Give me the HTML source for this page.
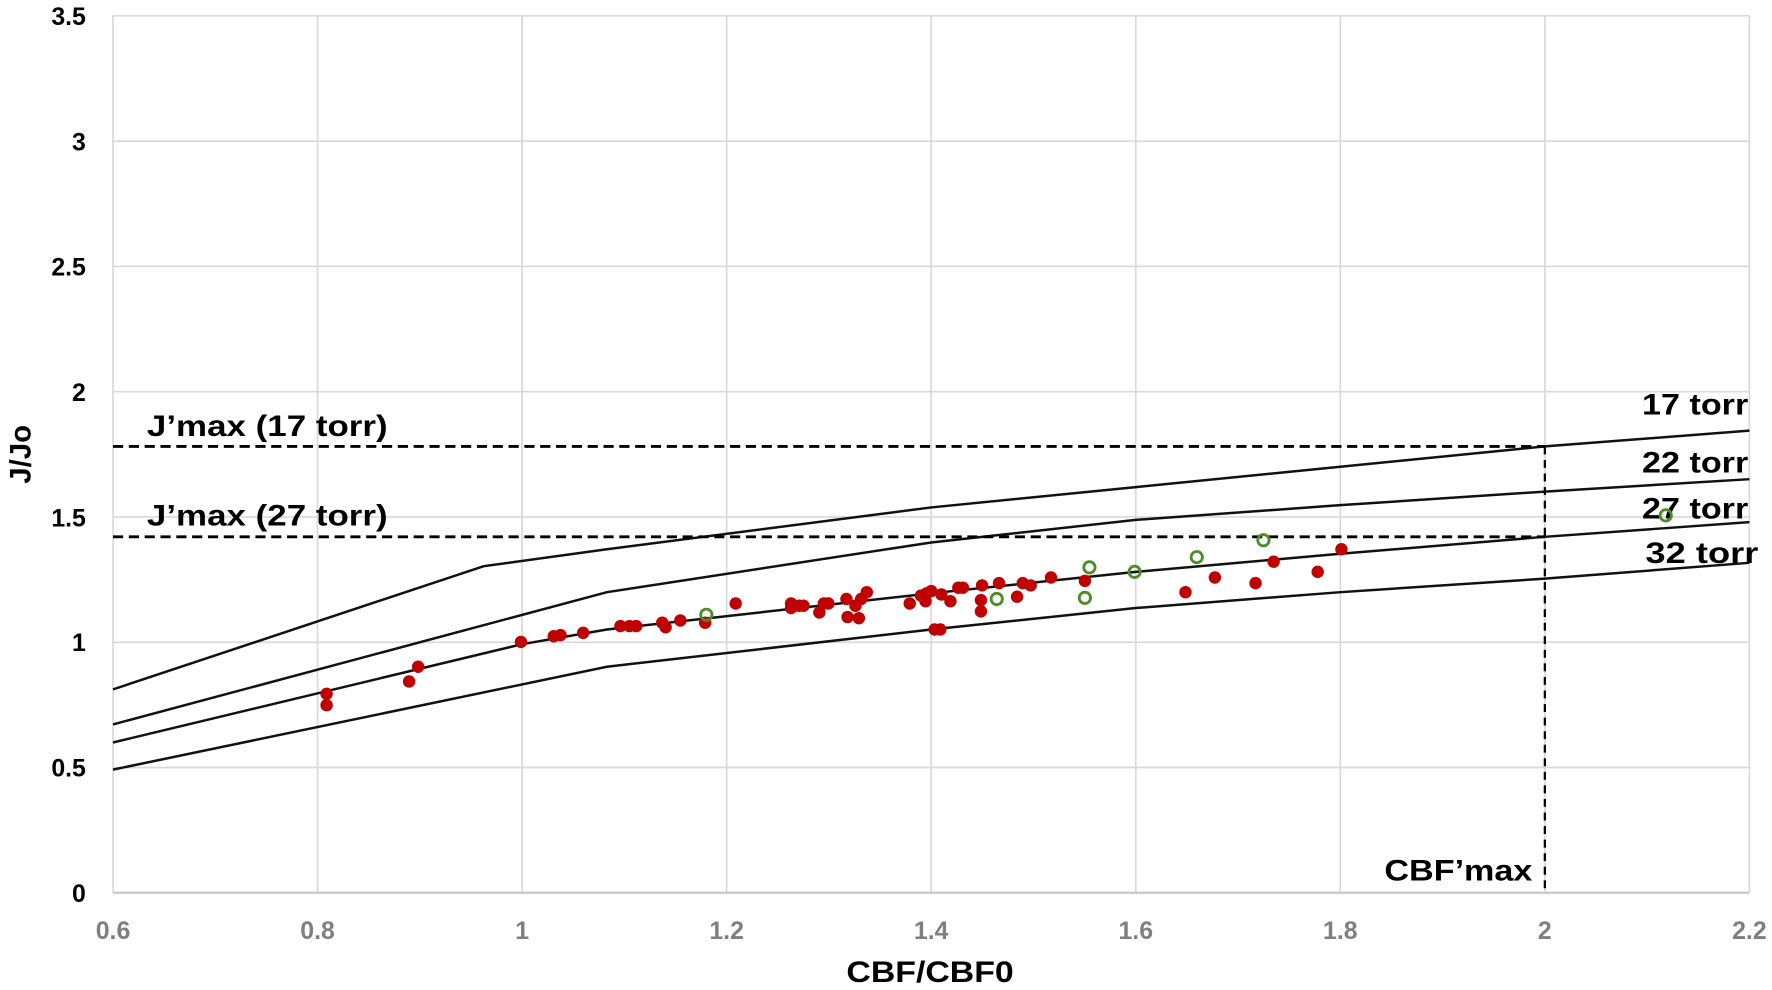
<!DOCTYPE html>
<html><head><meta charset="utf-8"><style>html,body{margin:0;padding:0;background:#fff}svg{display:block}</style></head>
<body>
<svg width="1772" height="990" viewBox="0 0 1568 876" xmlns="http://www.w3.org/2000/svg" font-family="Liberation Sans, Arial, sans-serif">
<g stroke="#d9d9d9" stroke-width="1.5">
<line x1="100" y1="14" x2="1548" y2="14"/><line x1="100" y1="124.9" x2="1548" y2="124.9"/><line x1="100" y1="235.7" x2="1548" y2="235.7"/><line x1="100" y1="346.6" x2="1548" y2="346.6"/><line x1="100" y1="457.4" x2="1548" y2="457.4"/><line x1="100" y1="568.3" x2="1548" y2="568.3"/><line x1="100" y1="679.1" x2="1548" y2="679.1"/>
<line x1="100" y1="14" x2="100" y2="790"/><line x1="281" y1="14" x2="281" y2="790"/><line x1="462" y1="14" x2="462" y2="790"/><line x1="643" y1="14" x2="643" y2="790"/><line x1="824" y1="14" x2="824" y2="790"/><line x1="1005" y1="14" x2="1005" y2="790"/><line x1="1186" y1="14" x2="1186" y2="790"/><line x1="1367" y1="14" x2="1367" y2="790"/><line x1="1548" y1="14" x2="1548" y2="790"/>
</g>
<line x1="100" y1="790" x2="1548" y2="790" stroke="#c8c8c8" stroke-width="2"/>
<g font-size="22" font-weight="bold" fill="#000" text-anchor="end">
<text x="76" y="22">3.5</text><text x="76" y="133">3</text><text x="76" y="244">2.5</text><text x="76" y="355">2</text><text x="76" y="466">1.5</text><text x="76" y="576">1</text><text x="76" y="687">0.5</text><text x="76" y="798">0</text>
</g>
<g font-size="22" font-weight="bold" fill="#7f7f7f" text-anchor="middle">
<text x="100" y="831">0.6</text><text x="281" y="831">0.8</text><text x="462" y="831">1</text><text x="643" y="831">1.2</text><text x="824" y="831">1.4</text><text x="1005" y="831">1.6</text><text x="1186" y="831">1.8</text><text x="1367" y="831">2</text><text x="1548" y="831">2.2</text>
</g>
<text x="749" y="869" font-size="26" font-weight="bold" textLength="148" lengthAdjust="spacingAndGlyphs">CBF/CBF0</text>
<text transform="translate(27,402) rotate(-90)" font-size="26" font-weight="bold" text-anchor="middle">J/Jo</text>
<g fill="none" stroke="#111" stroke-width="2.2">
<polyline points="100,610 428,501 537,486 824,449 1005,431 1186,413 1367,395 1548,381"/>
<polyline points="100,641 537,524 824,480 1005,460 1186,447 1367,435 1548,424"/>
<polyline points="100,657 462,570 537,557 824,525 1005,506 1186,490 1367,475 1548,462"/>
<polyline points="100,681 537,590 824,557 1005,538 1186,524 1367,512 1548,498"/>
</g>
<g stroke="#000" stroke-width="2.5" stroke-dasharray="9,5" fill="none">
<line x1="100" y1="395" x2="1367" y2="395"/><line x1="100" y1="475" x2="1367" y2="475"/><line x1="1367" y1="395" x2="1367" y2="790" stroke-width="2" stroke-dasharray="7,5"/>
</g>
<g font-size="26" font-weight="bold" fill="#000" lengthAdjust="spacingAndGlyphs">
<text x="130" y="386" textLength="213" lengthAdjust="spacingAndGlyphs">J’max (17 torr)</text><text x="130" y="465" textLength="213" lengthAdjust="spacingAndGlyphs">J’max (27 torr)</text>
<text x="1453" y="367" textLength="94" lengthAdjust="spacingAndGlyphs">17 torr</text><text x="1453" y="418" textLength="94" lengthAdjust="spacingAndGlyphs">22 torr</text><text x="1453" y="459" textLength="94" lengthAdjust="spacingAndGlyphs">27 torr</text><text x="1456" y="498" textLength="100" lengthAdjust="spacingAndGlyphs">32  torr</text>
<text x="1225" y="779" textLength="131" lengthAdjust="spacingAndGlyphs">CBF’max</text>
</g>
<g fill="#c00000">
<circle cx="289" cy="614" r="5.5"/><circle cx="289" cy="624" r="5.5"/><circle cx="362" cy="603" r="5.5"/><circle cx="370" cy="590" r="5.5"/><circle cx="461" cy="568" r="5.5"/><circle cx="490" cy="563" r="5.5"/><circle cx="496" cy="562" r="5.5"/><circle cx="516" cy="560" r="5.5"/><circle cx="549" cy="554" r="5.5"/><circle cx="557" cy="554" r="5.5"/><circle cx="563" cy="554" r="5.5"/><circle cx="586" cy="551" r="5.5"/><circle cx="589" cy="555" r="5.5"/><circle cx="602" cy="549" r="5.5"/><circle cx="624" cy="551" r="5.5"/><circle cx="651" cy="534" r="5.5"/><circle cx="700" cy="534" r="5.5"/><circle cx="700" cy="538" r="5.5"/><circle cx="707" cy="536" r="5.5"/><circle cx="711" cy="536" r="5.5"/><circle cx="725" cy="542" r="5.5"/><circle cx="729" cy="534" r="5.5"/><circle cx="733" cy="534" r="5.5"/><circle cx="749" cy="530" r="5.5"/><circle cx="750" cy="546" r="5.5"/><circle cx="757" cy="536" r="5.5"/><circle cx="762" cy="530" r="5.5"/><circle cx="767" cy="524" r="5.5"/><circle cx="760" cy="547" r="5.5"/><circle cx="805" cy="534" r="5.5"/><circle cx="815" cy="527" r="5.5"/><circle cx="820" cy="525" r="5.5"/><circle cx="824" cy="523" r="5.5"/><circle cx="819" cy="532" r="5.5"/><circle cx="833" cy="526" r="5.5"/><circle cx="841" cy="532" r="5.5"/><circle cx="848" cy="520" r="5.5"/><circle cx="852" cy="520" r="5.5"/><circle cx="868" cy="531" r="5.5"/><circle cx="868" cy="541" r="5.5"/><circle cx="869" cy="518" r="5.5"/><circle cx="884" cy="516" r="5.5"/><circle cx="900" cy="528" r="5.5"/><circle cx="905" cy="516" r="5.5"/><circle cx="912" cy="518" r="5.5"/><circle cx="930" cy="511" r="5.5"/><circle cx="960" cy="514" r="5.5"/><circle cx="827" cy="557" r="5.5"/><circle cx="832" cy="557" r="5.5"/><circle cx="1049" cy="524" r="5.5"/><circle cx="1075" cy="511" r="5.5"/><circle cx="1111" cy="516" r="5.5"/><circle cx="1127" cy="497" r="5.5"/><circle cx="1166" cy="506" r="5.5"/><circle cx="1187" cy="486" r="5.5"/>
</g>
<g fill="none" stroke="#4e8c2a" stroke-width="2.5">
<circle cx="625" cy="544" r="5"/><circle cx="882" cy="530" r="5"/><circle cx="960" cy="529" r="5"/><circle cx="964" cy="502" r="5"/><circle cx="1004" cy="506" r="5"/><circle cx="1059" cy="493" r="5"/><circle cx="1118" cy="478" r="5"/><circle cx="1474" cy="456" r="5"/>
</g>
</svg>
</body></html>
